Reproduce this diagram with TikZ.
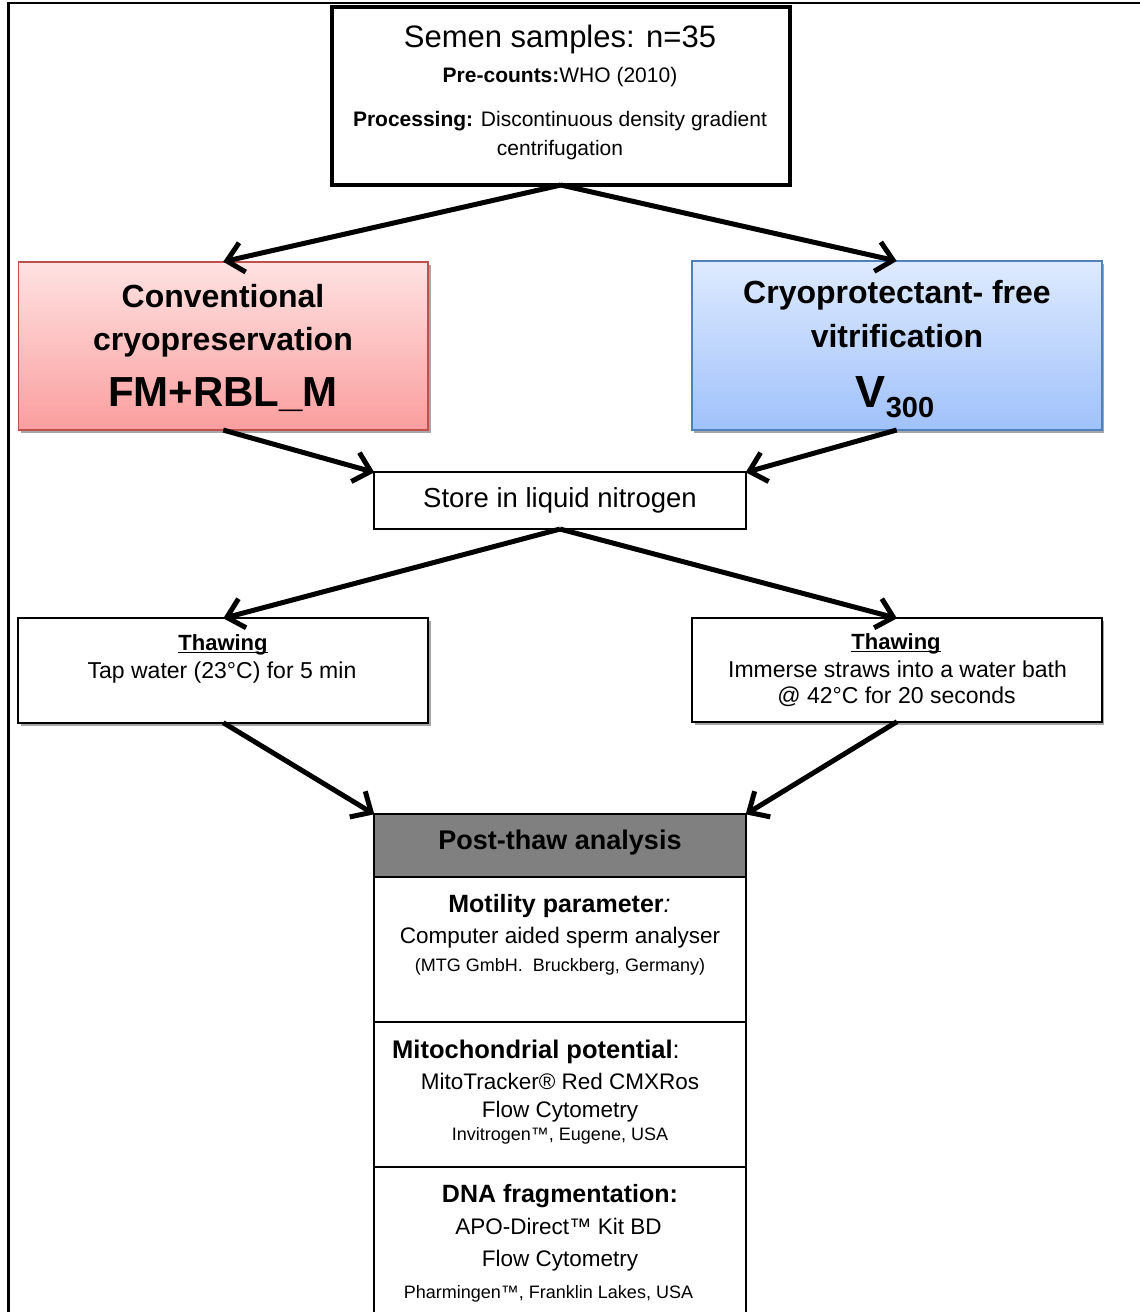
\documentclass[tikz,border=0pt]{standalone}
\usepackage{fontspec}
\setmainfont{Liberation Sans}
\usetikzlibrary{arrows.meta,shadows}

\newcommand\fsz[1]{\fontsize{#1}{#1}\selectfont}
% underline drawn just below the baseline, crossing descenders
\newcommand\ulword[1]{\setbox0\hbox{#1}\rlap{\rule[-3.2pt]{\wd0}{1.6pt}}\box0}

\definecolor{redtop}{RGB}{255,226,226}
\definecolor{redbot}{RGB}{250,158,158}
\definecolor{redline}{RGB}{192,80,77}
\definecolor{bluetop}{RGB}{222,234,255}
\definecolor{bluebot}{RGB}{160,193,250}
\definecolor{blueline}{RGB}{79,129,189}
\definecolor{headgray}{RGB}{128,128,128}

\begin{document}
\begin{tikzpicture}[x=1pt,y=-1pt,
  box/.style={draw, line width=2pt, inner sep=0pt, outer sep=0pt},
  shadowed/.style={drop shadow={shadow xshift=2.5pt, shadow yshift=-3pt, opacity=0.35, fill=black}},
  txt/.style={inner sep=0pt, anchor=base},
  arr/.style={line width=5pt, -{Straight Barb[length=16pt,width=30pt]}},
  frame/.style={line width=2.5pt}
]
\useasboundingbox (0,0) rectangle (1140,1312);

% outer frame (left and top edges)
\coordinate (fa) at (8.5,1314);
\coordinate (fb) at (8.5,3);
\coordinate (fc) at (1142,3);
\draw[frame] (fa) -- (fb) -- (fc);

% boxes
\node[box, line width=4pt, minimum width=457.5pt, minimum height=178pt] (top) at (560.75,96) {};
\node[box, shadowed, draw=redline, line width=1.6pt, top color=redtop, bottom color=redbot,
      minimum width=409.7pt, minimum height=168.3pt] (red) at (223.2,345.9) {};
\node[box, shadowed, draw=blueline, line width=1.6pt, top color=bluetop, bottom color=bluebot,
      minimum width=410pt, minimum height=169pt] (blue) at (896.7,345.5) {};
\node[box, line width=1.8pt, minimum width=371.4pt, minimum height=56.7pt] (store) at (560,500.7) {};
\node[box, shadowed, fill=white, minimum width=410pt, minimum height=104.4pt] (thawL) at (223.3,670.5) {};
\node[box, shadowed, fill=white, minimum width=409.4pt, minimum height=103.4pt] (thawR) at (897,670) {};
\node[box, fill=headgray, minimum width=371.4pt, minimum height=63pt] (post) at (560,845.8) {};
\node[box, minimum width=371.4pt, minimum height=144.4pt] (cellA) at (560,949.5) {};
\node[box, minimum width=371.4pt, minimum height=145pt] (cellB) at (560,1094.2) {};
\node[box, minimum width=371.4pt, minimum height=153.3pt] (cellC) at (560,1243.35) {};

% top box text
\node[txt, font=\fsz{31}] (t1) at (560,47) {Semen samples: n=35};
\node[txt, font=\fsz{21}] (t2) at (560,82) {\textbf{Pre-counts:}WHO (2010)};
\node[txt, font=\fsz{21}] (t3) at (560,126) {\textbf{Processing:} Discontinuous density gradient};
\node[txt, font=\fsz{21}] (t4) at (560,155) {centrifugation};

% conventional cryopreservation
\node[txt, font=\fsz{32}\bfseries] (r1) at (223,307) {Conventional};
\node[txt, font=\fsz{32}\bfseries] (r2) at (223,350) {cryopreservation};
\node[txt, font=\fsz{42}\bfseries] (r3) at (223,406) {FM+RBL\textunderscore M};

% vitrification
\node[txt, font=\fsz{32}\bfseries] (b1) at (897,303) {Cryoprotectant- free};
\node[txt, font=\fsz{32}\bfseries] (b2) at (897,347) {vitrification};
\node[txt, font=\bfseries] (b3) at (895,407) {\fsz{45}V\raisebox{-10pt}{\fsz{29}300}};

% storage
\node[txt, font=\fsz{27.5}] (s1) at (560,507) {Store in liquid nitrogen};

% thawing, conventional
\node[txt, font=\fsz{22}\bfseries] (l1) at (223,650) {\ulword{Thawing}};
\node[txt, font=\fsz{23}] (l2) at (222,678) {Tap water (23°C) for 5 min};

% thawing, vitrification
\node[txt, font=\fsz{22}\bfseries] (v1) at (896,649) {\ulword{Thawing}};
\node[txt, font=\fsz{23}] (v2) at (897.5,677) {Immerse straws into a water bath};
\node[txt, font=\fsz{23}] (v3) at (896.5,703) {@ 42°C for 20 seconds};

% post-thaw analysis
\node[txt, font=\fsz{27}\bfseries] (p0) at (560,849) {Post-thaw analysis};

\node[txt, font=\fsz{25}] (a1) at (559.5,912) {\textbf{Motility parameter}\textit{:}};
\node[txt, font=\fsz{22.5}] (a2) at (560,943) {Computer aided sperm analyser};
\node[txt, font=\fsz{18}] (a3) at (560,971) {(MTG GmbH.\ \ Bruckberg, Germany)};

\node[txt, font=\fsz{25.5}, anchor=base west] (m1) at (392,1058) {\textbf{Mitochondrial potential}:};
\node[txt, font=\fsz{22.5}] (m2) at (560,1089) {MitoTracker® Red CMXRos};
\node[txt, font=\fsz{22.5}] (m3) at (560,1117) {Flow Cytometry};
\node[txt, font=\fsz{18}] (m4) at (560,1140) {Invitrogen™, Eugene, USA};

\node[txt, font=\fsz{25}\bfseries] (d1) at (560,1202) {DNA fragmentation:};
\node[txt, font=\fsz{22.5}] (d2) at (558.5,1234) {APO-Direct™ Kit BD};
\node[txt, font=\fsz{22.5}] (d3) at (560,1266) {Flow Cytometry};
\node[txt, font=\fsz{18}] (d4) at (548.5,1298) {Pharmingen™, Franklin Lakes, USA};

% connectors
\draw[arr] (top.south) -- (red.north);
\draw[arr] (top.south) -- (blue.north);
\draw[arr] (red.south) -- (store.north west);
\draw[arr] (blue.south) -- (store.north east);
\draw[arr] (store.south) -- (thawL.north);
\draw[arr] (store.south) -- (thawR.north);
\draw[arr] (thawL.south) -- (post.north west);
\draw[arr] (thawR.south) -- (post.north east);
\end{tikzpicture}
\end{document}
